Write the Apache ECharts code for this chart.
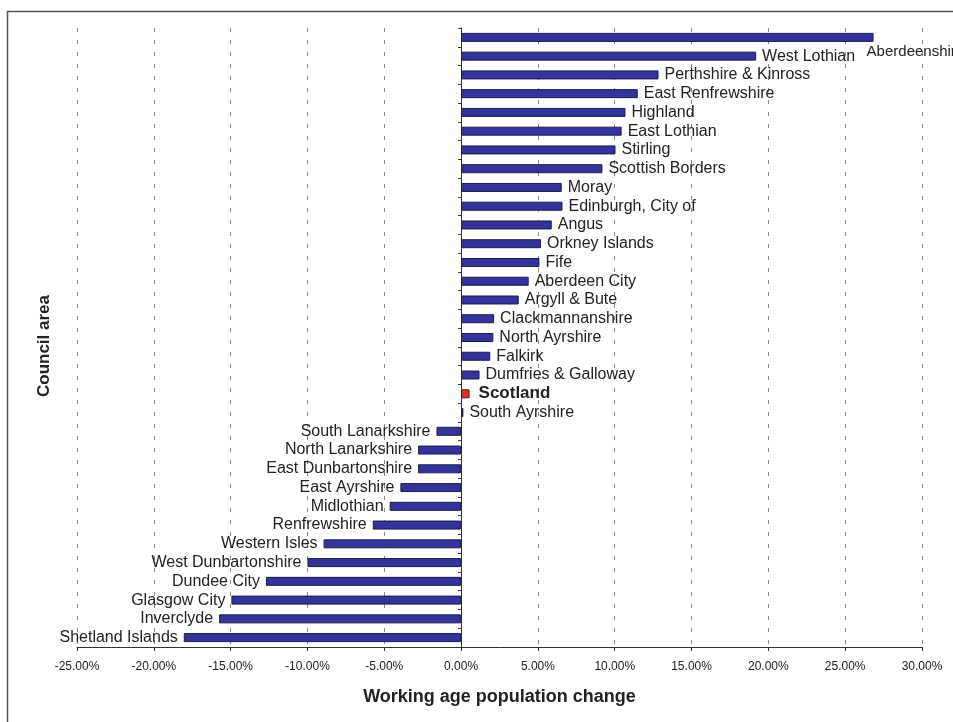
<!DOCTYPE html>
<html>
<head>
<meta charset="utf-8">
<script src="https://cdn.jsdelivr.net/npm/echarts@6/dist/echarts.min.js"></script>
<style>
  html, body { margin: 0; padding: 0; background: #fff; }
  #chart { width: 953px; height: 722px; }
</style>
</head>
<body>
<div id="chart"></div>
<script>
// council areas, top to bottom
var areas = ['Aberdeenshire', 'West Lothian', 'Perthshire & Kinross', 'East Renfrewshire', 'Highland',
    'East Lothian', 'Stirling', 'Scottish Borders', 'Moray', 'Edinburgh, City of', 'Angus',
    'Orkney Islands', 'Fife', 'Aberdeen City', 'Argyll & Bute', 'Clackmannanshire', 'North Ayrshire',
    'Falkirk', 'Dumfries & Galloway', 'Scotland', 'South Ayrshire', 'South Lanarkshire',
    'North Lanarkshire', 'East Dunbartonshire', 'East Ayrshire', 'Midlothian', 'Renfrewshire',
    'Western Isles', 'West Dunbartonshire', 'Dundee City', 'Glasgow City', 'Inverclyde', 'Shetland Islands'];
// working age population change, %
var change = [26.85, 19.2, 12.85, 11.5, 10.7, 10.45, 10.05, 9.2, 6.55, 6.6, 5.9,
    5.2, 5.1, 4.4, 3.75, 2.15, 2.1, 1.9, 1.2, 0.55, 0.15, -1.6,
    -2.8, -2.8, -3.95, -4.65, -5.75, -8.95, -10.0, -12.7, -14.95, -15.75, -18.05];
var xTicks = [-25, -20, -15, -10, -5, 0, 5, 10, 15, 20, 25, 30];

var font = 'Liberation Sans, Arial, sans-serif';

var barData = areas.map(function (name, i) {
    var v = change[i];
    var item = {
        value: v,
        label: {
            show: true,
            position: v < 0 ? 'left' : 'right',
            distance: 6,
            formatter: name,
            color: '#222',
            fontSize: 16,
            fontFamily: font
        }
    };
    if (name === 'Scotland') {
        item.itemStyle = { color: '#d9342b', borderColor: '#5a1a14' };
        item.label.fontWeight = 'bold';
        item.label.fontSize = 17;
        item.label.distance = 9;
    }
    if (name === 'Aberdeenshire') {
        item.label.offset = [-13, 14];
        item.label.fontSize = 15;
    }
    return item;
});

var chart = echarts.init(document.getElementById('chart'));
chart.setOption({
    animation: false,
    backgroundColor: '#fff',
    grid: { left: 77, right: 31, top: 28, bottom: 75, containLabel: false, outerBoundsMode: 'none' },
    xAxis: {
        type: 'value',
        min: xTicks[0],
        max: xTicks[xTicks.length - 1],
        interval: 5,
        name: 'Working age population change',
        nameLocation: 'middle',
        nameGap: 41,
        nameTextStyle: { fontFamily: font, fontSize: 18, fontWeight: 'bold', color: '#222' },
        axisLine: { show: true, lineStyle: { color: '#333', width: 1 } },
        axisTick: { show: true, length: 4, lineStyle: { color: '#333' } },
        axisLabel: {
            fontFamily: font, fontSize: 12, color: '#222', margin: 14,
            formatter: function (v) { return v.toFixed(2) + '%'; }
        },
        splitLine: { show: true, lineStyle: { color: '#888', type: [4, 8], width: 1 } }
    },
    yAxis: {
        type: 'category',
        data: areas,
        inverse: true,
        axisLine: { show: true, onZero: true, lineStyle: { color: '#333', width: 1 } },
        axisTick: { show: true, length: 3, lineStyle: { color: '#333' } },
        axisLabel: { show: false },
        splitLine: { show: false }
    },
    series: [{
        type: 'bar',
        data: barData,
        barWidth: 9,
        itemStyle: { color: '#333399', borderColor: '#1c1c50', borderWidth: 1 }
    }],
    graphic: [{
        type: 'rect',
        shape: { x: 7.5, y: 11.5, width: 980, height: 740 },
        style: { fill: 'none', stroke: '#555', lineWidth: 1.5 },
        silent: true
    }, {
        // y axis title
        type: 'text',
        x: 44,
        y: 346,
        rotation: Math.PI / 2,
        style: {
            text: 'Council area',
            font: 'bold 17px ' + font,
            fill: '#222',
            align: 'center',
            verticalAlign: 'middle'
        },
        silent: true
    }]
});
</script>
</body>
</html>
